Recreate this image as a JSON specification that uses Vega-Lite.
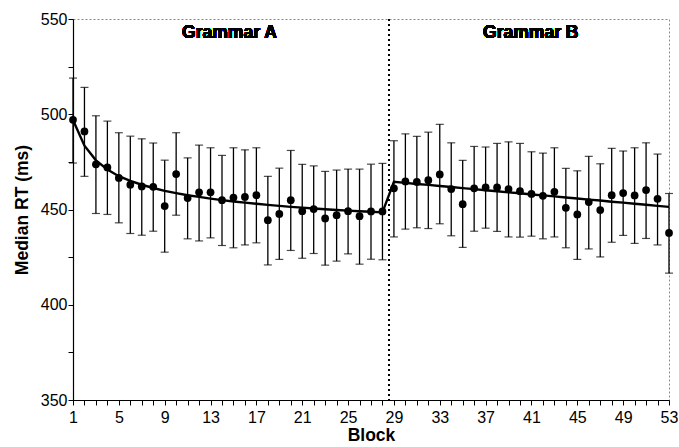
{
  "$schema": "https://vega.github.io/schema/vega-lite/v6.json",
  "width": 596,
  "height": 381,
  "autosize": {"type": "none"},
  "padding": {"left": 73, "top": 19, "right": 10, "bottom": 47},
  "background": "white",
  "config": {
    "font": "Liberation Sans",
    "view": {"stroke": "#8a8a8a", "strokeDash": [2, 2], "strokeWidth": 1},
    "axis": {
      "grid": false,
      "domainColor": "black",
      "domainWidth": 1.2,
      "tickColor": "black",
      "tickWidth": 1,
      "tickSize": 5,
      "labelFont": "Liberation Sans",
      "labelFontSize": 16,
      "labelColor": "black",
      "labelPadding": 1,
      "titleFont": "Liberation Sans",
      "titleFontSize": 17.5,
      "titleFontWeight": "bold",
      "titleColor": "black"
    }
  },
  "data": {
    "values": [
      {"block": 1, "rt": 497.1, "hi": 519.0, "lo": 474.4, "fit": 497.0},
      {"block": 2, "rt": 491.0, "hi": 514.1, "lo": 467.4, "fit": 483.5},
      {"block": 3, "rt": 473.7, "hi": 499.2, "lo": 447.9, "fit": 475.8},
      {"block": 4, "rt": 472.1, "hi": 496.4, "lo": 447.4, "fit": 471.0},
      {"block": 5, "rt": 466.6, "hi": 490.3, "lo": 443.0, "fit": 467.5},
      {"block": 6, "rt": 463.0, "hi": 488.5, "lo": 437.4, "fit": 465.0},
      {"block": 7, "rt": 462.1, "hi": 487.1, "lo": 436.5, "fit": 463.0},
      {"block": 8, "rt": 461.9, "hi": 484.9, "lo": 438.6, "fit": 461.3},
      {"block": 9, "rt": 451.8, "hi": 475.9, "lo": 427.6, "fit": 459.8},
      {"block": 10, "rt": 468.6, "hi": 490.3, "lo": 447.0, "fit": 458.6},
      {"block": 11, "rt": 456.0, "hi": 477.1, "lo": 434.6, "fit": 457.5},
      {"block": 12, "rt": 459.0, "hi": 483.8, "lo": 433.5, "fit": 456.6},
      {"block": 13, "rt": 459.0, "hi": 482.4, "lo": 435.1, "fit": 455.7},
      {"block": 14, "rt": 454.9, "hi": 478.4, "lo": 431.1, "fit": 454.9},
      {"block": 15, "rt": 456.3, "hi": 482.4, "lo": 429.9, "fit": 454.2},
      {"block": 16, "rt": 456.6, "hi": 481.3, "lo": 431.4, "fit": 453.6},
      {"block": 17, "rt": 457.5, "hi": 482.4, "lo": 432.5, "fit": 453.0},
      {"block": 18, "rt": 444.4, "hi": 467.4, "lo": 420.9, "fit": 452.4},
      {"block": 19, "rt": 447.7, "hi": 471.7, "lo": 423.8, "fit": 451.9},
      {"block": 20, "rt": 454.9, "hi": 481.0, "lo": 428.5, "fit": 451.4},
      {"block": 21, "rt": 449.1, "hi": 473.7, "lo": 424.4, "fit": 451.0},
      {"block": 22, "rt": 450.2, "hi": 472.9, "lo": 426.9, "fit": 450.5},
      {"block": 23, "rt": 445.3, "hi": 470.0, "lo": 420.8, "fit": 450.1},
      {"block": 24, "rt": 447.0, "hi": 470.7, "lo": 422.9, "fit": 449.7},
      {"block": 25, "rt": 449.1, "hi": 471.2, "lo": 426.7, "fit": 449.4},
      {"block": 26, "rt": 446.5, "hi": 471.2, "lo": 421.3, "fit": 449.1},
      {"block": 27, "rt": 449.0, "hi": 473.8, "lo": 423.9, "fit": 448.8},
      {"block": 28, "rt": 449.0, "hi": 474.2, "lo": 423.6, "fit": 448.5},
      {"block": 29, "rt": 461.1, "hi": 486.1, "lo": 435.6, "fit": 464.5},
      {"block": 30, "rt": 464.7, "hi": 489.7, "lo": 439.7, "fit": 464.0},
      {"block": 31, "rt": 464.5, "hi": 488.4, "lo": 440.4, "fit": 463.4},
      {"block": 32, "rt": 465.4, "hi": 490.6, "lo": 440.0, "fit": 462.9},
      {"block": 33, "rt": 468.4, "hi": 494.7, "lo": 442.5, "fit": 462.3},
      {"block": 34, "rt": 460.7, "hi": 485.0, "lo": 436.2, "fit": 461.8},
      {"block": 35, "rt": 452.8, "hi": 475.8, "lo": 430.1, "fit": 461.2},
      {"block": 36, "rt": 461.1, "hi": 483.1, "lo": 438.6, "fit": 460.7},
      {"block": 37, "rt": 461.6, "hi": 482.8, "lo": 440.2, "fit": 460.1},
      {"block": 38, "rt": 461.6, "hi": 484.7, "lo": 438.5, "fit": 459.6},
      {"block": 39, "rt": 460.7, "hi": 485.5, "lo": 435.6, "fit": 459.0},
      {"block": 40, "rt": 459.6, "hi": 484.7, "lo": 435.5, "fit": 458.5},
      {"block": 41, "rt": 458.2, "hi": 480.3, "lo": 436.0, "fit": 457.9},
      {"block": 42, "rt": 457.2, "hi": 479.6, "lo": 434.6, "fit": 457.4},
      {"block": 43, "rt": 459.3, "hi": 482.4, "lo": 435.6, "fit": 456.9},
      {"block": 44, "rt": 450.9, "hi": 471.6, "lo": 429.9, "fit": 456.3},
      {"block": 45, "rt": 447.4, "hi": 470.3, "lo": 423.8, "fit": 455.8},
      {"block": 46, "rt": 453.9, "hi": 477.9, "lo": 429.3, "fit": 455.2},
      {"block": 47, "rt": 449.7, "hi": 474.0, "lo": 425.1, "fit": 454.7},
      {"block": 48, "rt": 457.5, "hi": 482.1, "lo": 432.8, "fit": 454.1},
      {"block": 49, "rt": 458.6, "hi": 480.7, "lo": 436.4, "fit": 453.6},
      {"block": 50, "rt": 457.4, "hi": 482.4, "lo": 432.2, "fit": 453.0},
      {"block": 51, "rt": 460.2, "hi": 485.0, "lo": 434.8, "fit": 452.5},
      {"block": 52, "rt": 455.6, "hi": 479.1, "lo": 431.4, "fit": 451.9},
      {"block": 53, "rt": 437.7, "hi": 458.4, "lo": 416.6, "fit": 451.4}
    ]
  },
  "encoding": {
    "x": {
      "field": "block",
      "type": "quantitative",
      "title": "Block",
      "scale": {"domain": [1, 53], "nice": false, "zero": false},
      "axis": {
        "values": [1,2,3,4,5,6,7,8,9,10,11,12,13,14,15,16,17,18,19,20,21,22,23,24,25,26,27,28,29,30,31,32,33,34,35,36,37,38,39,40,41,42,43,44,45,46,47,48,49,50,51,52,53],
        "labelExpr": "(datum.value - 1) % 4 === 0 ? datum.label : ''",
        "labelOverlap": false,
        "labelFlush": false,
        "labelPadding": 4,
        "titlePadding": 1
      }
    }
  },
  "layer": [
    {
      "mark": {"type": "rule", "color": "black", "strokeWidth": 1.3},
      "encoding": {
        "y": {
          "field": "lo",
          "type": "quantitative",
          "title": "Median RT (ms)",
          "scale": {"domain": [350, 550], "nice": false, "zero": false},
          "axis": {
            "values": [350, 375, 400, 425, 450, 475, 500, 525, 550],
            "labelExpr": "datum.value % 50 === 0 ? datum.label : ''",
            "labelOverlap": false,
            "labelFlush": false,
            "titlePadding": 9
          }
        },
        "y2": {"field": "hi"}
      }
    },
    {
      "mark": {"type": "tick", "orient": "horizontal", "size": 8, "thickness": 1.2, "color": "black"},
      "encoding": {"y": {"field": "hi", "type": "quantitative"}}
    },
    {
      "mark": {"type": "tick", "orient": "horizontal", "size": 8, "thickness": 1.2, "color": "black"},
      "encoding": {"y": {"field": "lo", "type": "quantitative"}}
    },
    {
      "mark": {"type": "line", "color": "black", "strokeWidth": 2.4},
      "encoding": {"y": {"field": "fit", "type": "quantitative"}}
    },
    {
      "mark": {"type": "point", "filled": true, "color": "black", "size": 60, "opacity": 1},
      "encoding": {"y": {"field": "rt", "type": "quantitative"}}
    },
    {
      "mark": {"type": "rule", "color": "black", "strokeWidth": 1.2, "strokeDash": [2, 3]},
      "encoding": {"x": {"datum": 28.6}}
    },
    {
      "mark": {"type": "text", "font": "Liberation Sans", "fontSize": 17.5, "fontWeight": "bold", "color": "black", "align": "center", "baseline": "middle"},
      "encoding": {"x": {"datum": 14.65}, "y": {"datum": 542.6}, "text": {"value": "Grammar A"}}
    },
    {
      "mark": {"type": "text", "font": "Liberation Sans", "fontSize": 17.5, "fontWeight": "bold", "color": "black", "align": "center", "baseline": "middle"},
      "encoding": {"x": {"datum": 40.94}, "y": {"datum": 542.6}, "text": {"value": "Grammar B"}}
    }
  ]
}
